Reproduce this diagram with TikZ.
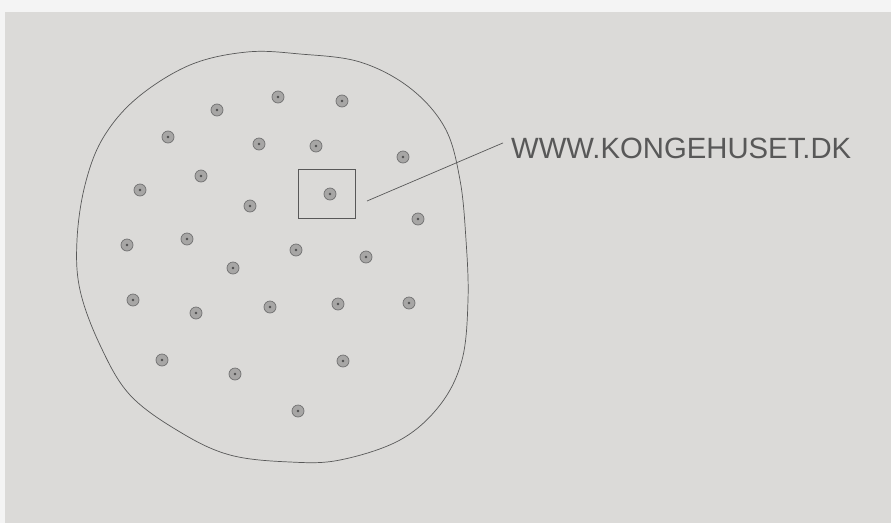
\documentclass[tikz,border=0pt]{standalone}
\usepackage{fontspec}
\setmainfont{Liberation Sans}
\definecolor{board}{RGB}{219,218,216}
\definecolor{paper}{RGB}{244,244,244}
\definecolor{pencil}{RGB}{88,88,88}

\begin{document}
\begin{tikzpicture}[x=0.03cm,y=-0.03cm,
   outline/.style={pencil, line width=0.6pt, line join=round},
   hole/.style={circle, draw=pencil!85, fill=board!60!pencil, line width=0.6pt,
     minimum size=0.36cm, inner sep=0pt},
   core/.style={circle, fill=pencil!90!black, minimum size=0.08cm, inner sep=0pt},
   frame/.style={draw=pencil, line width=0.6pt, minimum width=1.71cm,
     minimum height=1.47cm, inner sep=0pt},
   url/.style={font=\fontsize{25}{30}\selectfont, text=pencil, anchor=base west}]
  \useasboundingbox (0,0) rectangle (891,523);
  % whiteboard and photo edge
  \fill[board] (0,0) rectangle (891,523);
  \fill[paper] (0,0) rectangle (891,12);
  \fill[paper] (0,0) rectangle (5,523);
  % plate outline
  \draw[outline] plot[smooth cycle, tension=0.6] coordinates {
    (247,52) (300,54) (360,62) (410,88) (445,128) (460,180) (466,240)
    (468,300) (462,360) (440,405) (400,440) (340,460) (290,462) (230,455)
    (180,432) (130,395) (100,345) (80,290) (77,240) (85,185) (103,138)
    (137,98) (190,65)};
  % holes
  \foreach \x/\y [count=\i] in {217/110, 278/97, 342/101, 168/137, 259/144,
      316/146, 403/157, 201/176, 140/190, 250/206, 330/194, 418/219,
      127/245, 187/239, 296/250, 233/268, 366/257, 133/300, 196/313,
      270/307, 338/304, 409/303, 162/360, 235/374, 343/361, 298/411}
    {\node[hole] (h\i) at (\x,\y) {};
     \node[core] (c\i) at (h\i) {};}
  % callout
  \node[frame] (zoom) at (326.5,193.5) {};
  \coordinate (tip) at (367,201);
  \node[url] (site) at (507,158) {WWW.KONGEHUSET.DK};
  \draw[outline] (tip) -- ([shift={(-4,-5)}]site.west);
\end{tikzpicture}
\end{document}
